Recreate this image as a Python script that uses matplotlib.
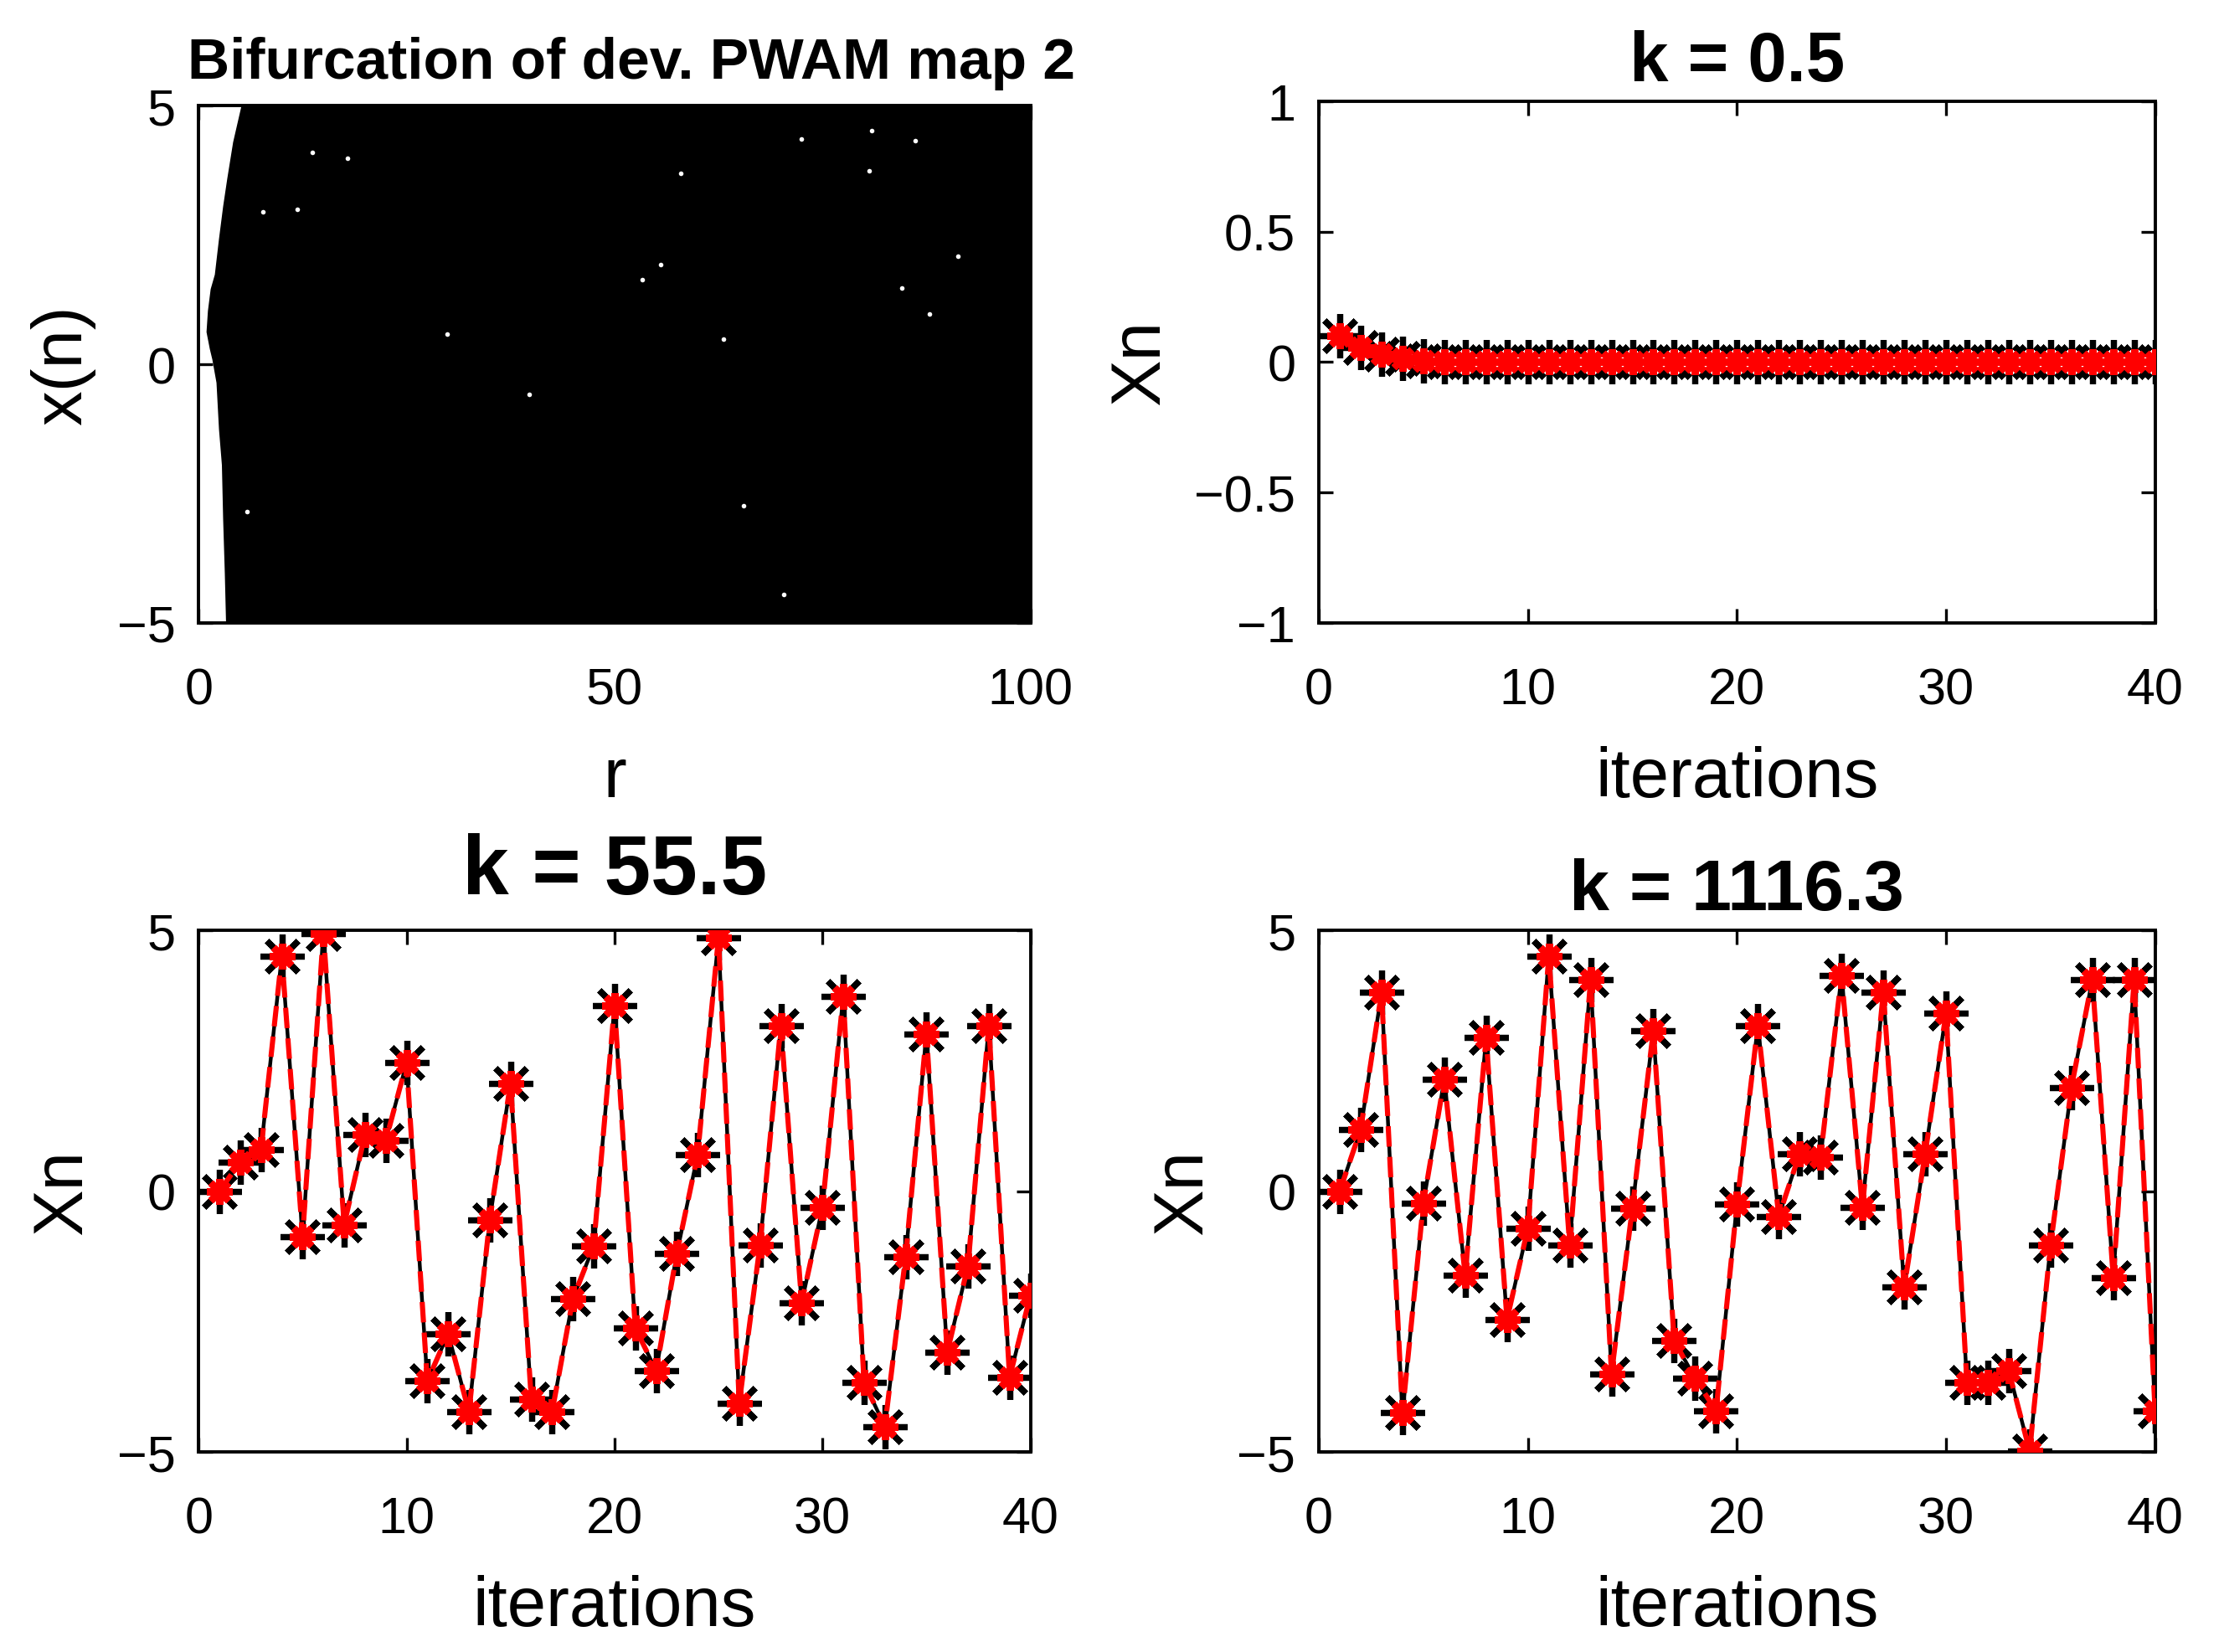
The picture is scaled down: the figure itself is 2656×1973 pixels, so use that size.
import matplotlib.pyplot as plt
import numpy as np

plt.rcParams['font.family'] = ['Liberation Sans', 'DejaVu Sans']

# --- data ---
# bifurcation panel: left edge of the black chaotic band (r as a function of x(n))
bif_x = [5.0, 4.65, 4.3, 3.6, 3.06, 2.43, 1.74, 1.46, 1.04, 0.63, 0.3, 0.1, -0.35,
         -1.25, -1.94, -2.99, -4.03, -5.0]
bif_r_edge = [5.1, 4.6, 4.1, 3.4, 2.9, 2.4, 1.9, 1.4, 1.07, 0.9, 1.3, 1.6, 2.1,
              2.4, 2.75, 2.9, 3.1, 3.25]
# white specks inside the band
speck_r = [55.6, 53.3, 84.5, 63.1, 80.9, 86.2, 72.5, 80.6, 5.8, 65.5, 39.7, 29.9,
           91.3, 58.0, 17.9, 13.7, 11.9, 7.7, 87.9, 70.4]
speck_x = [1.93, 1.63, 1.48, 0.48, 4.52, 4.32, 4.35, 3.74, -2.84, -2.74, -0.58, 0.58,
           2.09, 3.69, 3.99, 4.10, 2.99, 2.94, 0.98, -4.45]

iters = list(range(1, 41))

xn_k05 = [0.10, 0.055, 0.03, 0.013, 0.005, 0.002, 0.001, 0.0, 0.0, 0.0,
          0.0, 0.0, 0.0, 0.0, 0.0, 0.0, 0.0, 0.0, 0.0, 0.0,
          0.0, 0.0, 0.0, 0.0, 0.0, 0.0, 0.0, 0.0, 0.0, 0.0,
          0.0, 0.0, 0.0, 0.0, 0.0, 0.0, 0.0, 0.0, 0.0, 0.0]

xn_k555 = [0.0, 0.56, 0.79, 4.51, -0.87, 4.94, -0.64, 1.08, 0.97, 2.46,
           -3.64, -2.73, -4.23, -0.55, 2.07, -3.99, -4.23, -2.06, -1.05, 3.56,
           -2.62, -3.44, -1.19, 0.70, 4.86, -4.06, -1.03, 3.18, -2.14, -0.31,
           3.74, -3.66, -4.51, -1.26, 3.02, -3.09, -1.43, 3.18, -3.57, -2.0]

xn_k11163 = [0.0, 1.18, 3.81, -4.25, -0.23, 2.14, -1.61, 2.94, -2.46, -0.71,
             4.51, -1.04, 4.06, -3.50, -0.32, 3.08, -2.87, -3.59, -4.21, -0.25,
             3.18, -0.48, 0.72, 0.66, 4.13, -0.31, 3.81, -1.84, 0.71, 3.41,
             -3.66, -3.66, -3.44, -4.98, -1.04, 1.99, 4.06, -1.66, 4.06, -4.21]

TICK_FS = 22
LABEL_FS = 30

fig = plt.figure(figsize=(13.28, 9.87), dpi=200)


def style_axes(ax):
    ax.tick_params(direction='in', top=True, right=True, length=6, width=1.2,
                   labelsize=TICK_FS)
    ax.tick_params(axis='x', pad=19)
    ax.tick_params(axis='y', pad=10)
    ax.xaxis.labelpad = 13
    ax.yaxis.labelpad = 9
    for s in ax.spines.values():
        s.set_linewidth(1.4)


def series(ax, x, y):
    ax.plot(x, y, '-', color='k', lw=1.6, zorder=2)
    ax.plot(x, y, linestyle='none', marker=(8, 2, 0), ms=19, mew=2.6, color='k', zorder=3)
    ax.plot(x, y, '--', color='r', lw=2.2, dashes=(4, 2), zorder=4)
    ax.plot(x, y, linestyle='none', marker=(8, 2, 0), ms=11, mew=3, color='r', zorder=5)
    ax.plot(x, y, linestyle='none', marker='o', ms=7, color='r', zorder=6)


# top-left: bifurcation
ax1 = fig.add_axes([0.0893, 0.6226, 0.374, 0.313])
ax1.fill_betweenx(bif_x, bif_r_edge, 100, color='k', lw=0)
ax1.plot(speck_r, speck_x, 'o', color='white', ms=2, mew=0)
ax1.set_xlim(0, 100)
ax1.set_ylim(-5, 5)
ax1.set_xticks([0, 50, 100])
ax1.set_yticks([-5, 0, 5])
ax1.set_xlabel('r', fontsize=LABEL_FS)
ax1.set_ylabel('x(n)', fontsize=LABEL_FS)
ax1.set_title('Bifurcation of dev. PWAM map 2', fontsize=25, fontweight='bold',
              x=0.52, pad=12)
style_axes(ax1)

# top-right: k = 0.5
ax2 = fig.add_axes([0.593, 0.6226, 0.376, 0.3156])
series(ax2, iters, xn_k05)
ax2.set_xlim(0, 40)
ax2.set_ylim(-1, 1)
ax2.set_xticks([0, 10, 20, 30, 40])
ax2.set_yticks([-1, -0.5, 0, 0.5, 1])
ax2.set_yticklabels(['\u22121', '\u22120.5', '0', '0.5', '1'])
ax2.set_xlabel('iterations', fontsize=LABEL_FS)
ax2.set_ylabel('Xn', fontsize=LABEL_FS)
ax2.set_title('k = 0.5', fontsize=30, fontweight='bold', pad=9)
style_axes(ax2)

# bottom-left: k = 55.5
ax3 = fig.add_axes([0.0893, 0.121, 0.374, 0.3156])
series(ax3, iters, xn_k555)
ax3.set_xlim(0, 40)
ax3.set_ylim(-5, 5)
ax3.set_xticks([0, 10, 20, 30, 40])
ax3.set_yticks([-5, 0, 5])
ax3.set_xlabel('iterations', fontsize=LABEL_FS)
ax3.set_ylabel('Xn', fontsize=LABEL_FS)
ax3.set_title('k = 55.5', fontsize=36, fontweight='bold', pad=16)
style_axes(ax3)

# bottom-right: k = 1116.3
ax4 = fig.add_axes([0.593, 0.121, 0.376, 0.3156])
series(ax4, iters, xn_k11163)
ax4.set_xlim(0, 40)
ax4.set_ylim(-5, 5)
ax4.set_xticks([0, 10, 20, 30, 40])
ax4.set_yticks([-5, 0, 5])
ax4.set_xlabel('iterations', fontsize=LABEL_FS)
ax4.set_ylabel('Xn', fontsize=LABEL_FS)
ax4.set_title('k = 1116.3', fontsize=31, fontweight='bold', pad=9)
style_axes(ax4)

fig.savefig('out.png', dpi=200)
